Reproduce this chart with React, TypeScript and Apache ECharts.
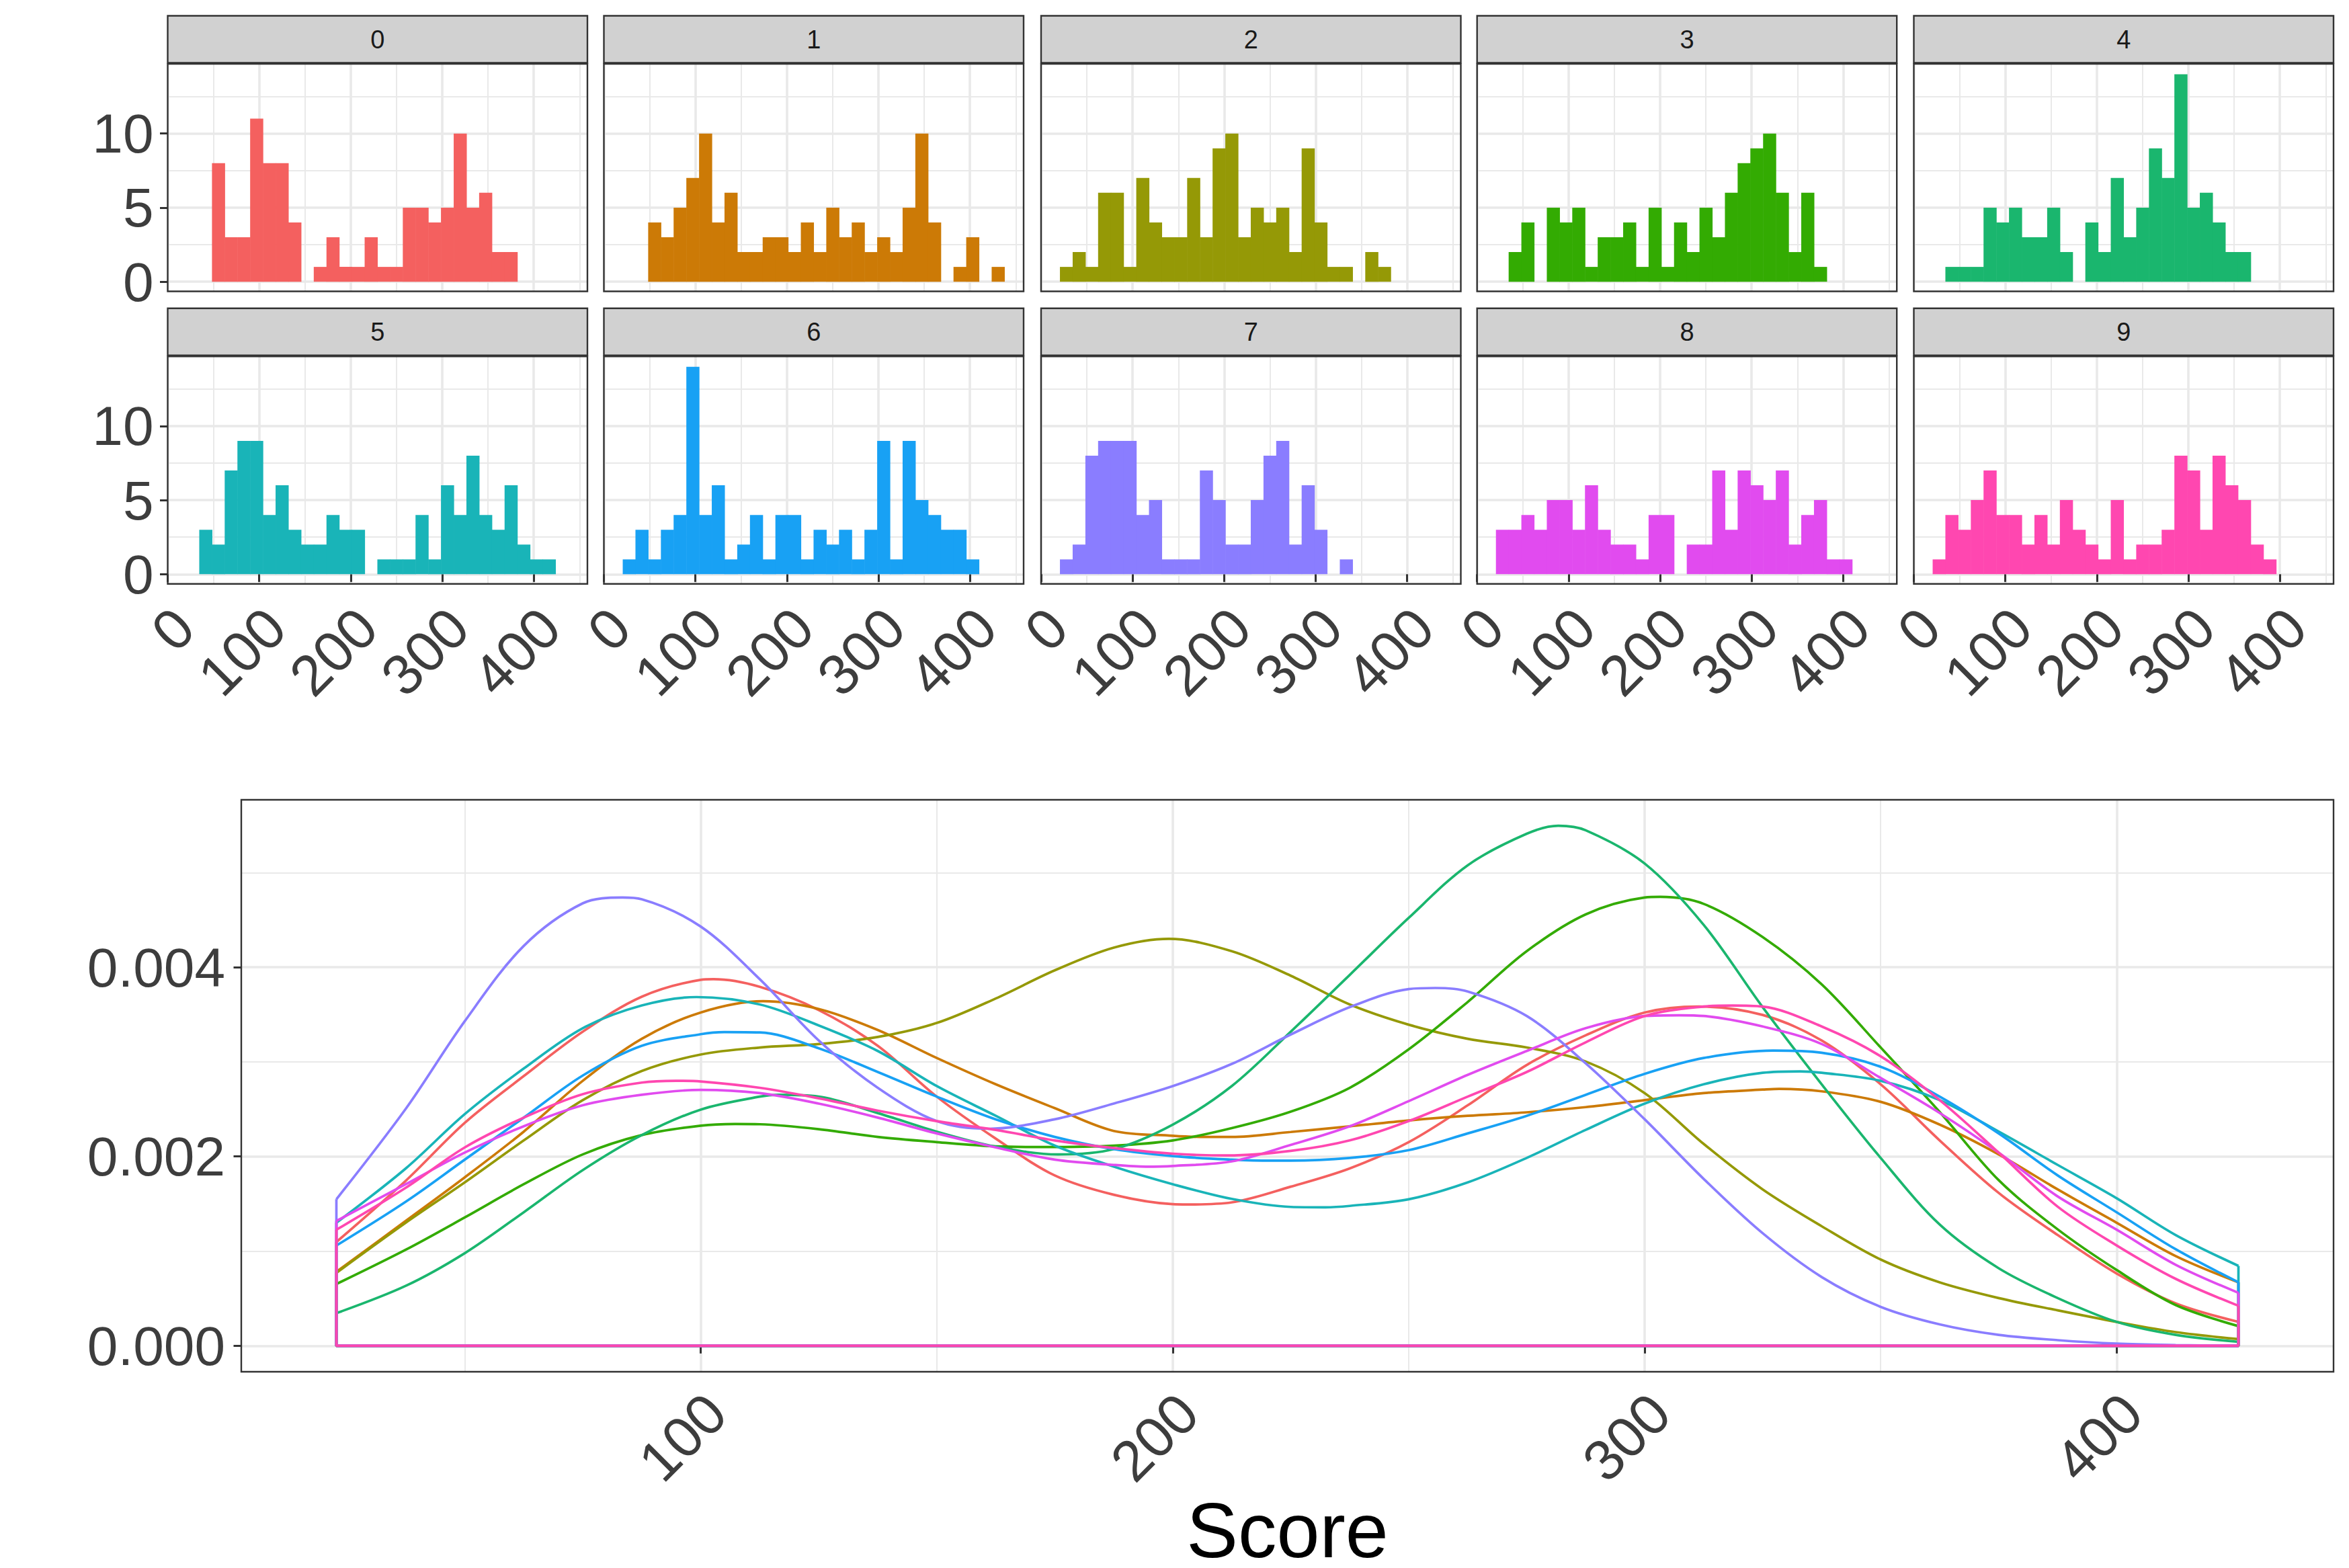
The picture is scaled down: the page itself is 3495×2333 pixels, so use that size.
import React, { useEffect, useRef } from "react";
import * as echarts from "echarts";

const FONT = "Liberation Sans";
const colors = ["#F4605F", "#CC7A06", "#959906", "#33AB02", "#1AB66E", "#19B4B8", "#18A1F4", "#8A7DFF", "#E14BEF", "#FF47B0"];
const facetNames = ["0", "1", "2", "3", "4", "5", "6", "7", "8", "9"];

const binFirstCentre = 27.75;
const binWidth = 13.9;

const counts0 = [0, 0, 8, 3, 3, 11, 8, 8, 4, 0, 1, 3, 1, 1, 3, 1, 1, 5, 5, 4, 5, 10, 5, 6, 2, 2];
const counts1 = [0, 0, 4, 3, 5, 7, 10, 4, 6, 2, 2, 3, 3, 2, 4, 2, 5, 3, 4, 2, 3, 2, 5, 10, 4, 0, 1, 3, 0, 1];
const counts2 = [1, 2, 1, 6, 6, 1, 7, 4, 3, 3, 7, 3, 9, 10, 3, 5, 4, 5, 2, 9, 4, 1, 1, 0, 2, 1];
const counts3 = [0, 2, 4, 0, 5, 4, 5, 1, 3, 3, 4, 1, 5, 1, 4, 2, 5, 3, 6, 8, 9, 10, 6, 2, 6, 1];
const counts4 = [0, 1, 1, 1, 5, 4, 5, 3, 3, 5, 2, 0, 4, 2, 7, 3, 5, 9, 7, 14, 5, 6, 4, 2, 2];
const counts5 = [0, 3, 2, 7, 9, 9, 4, 6, 3, 2, 2, 4, 3, 3, 0, 1, 1, 1, 4, 1, 6, 4, 8, 4, 3, 6, 2, 1, 1];
const counts6 = [1, 3, 1, 3, 4, 14, 4, 6, 1, 2, 4, 1, 4, 4, 1, 3, 2, 3, 1, 3, 9, 1, 9, 5, 4, 3, 3, 1];
const counts7 = [1, 2, 8, 9, 9, 9, 4, 5, 1, 1, 1, 7, 5, 2, 2, 5, 8, 9, 2, 6, 3, 0, 1];
const counts8 = [3, 3, 4, 3, 5, 5, 3, 6, 3, 2, 2, 1, 4, 4, 0, 2, 2, 7, 3, 7, 6, 5, 7, 2, 4, 5, 1, 1];
const counts9 = [1, 4, 3, 5, 7, 4, 4, 2, 4, 2, 5, 3, 2, 1, 5, 1, 2, 2, 3, 8, 7, 3, 8, 6, 5, 2, 1];
const allCounts = [counts0, counts1, counts2, counts3, counts4, counts5, counts6, counts7, counts8, counts9];

const densityX = [22.8, 37.5, 50, 62.5, 75, 87.5, 100, 112.5, 125, 137.5, 150, 162.5, 175, 187.5, 200, 212.5, 225, 237.5, 250, 262.5, 275, 287.5, 300, 312.5, 325, 337.5, 350, 362.5, 375, 387.5, 400, 412.5, 425.8];
const density0 = [0.001096, 0.001744, 0.002356, 0.00285, 0.003319, 0.003689, 0.003867, 0.003793, 0.003548, 0.00317, 0.002633, 0.002189, 0.0018, 0.001596, 0.001496, 0.001515, 0.001681, 0.001874, 0.002152, 0.002541, 0.002967, 0.003281, 0.003522, 0.003578, 0.003496, 0.003226, 0.002763, 0.00217, 0.001615, 0.00117, 0.000763, 0.000448, 0.000252];
const density1 = [0.000781, 0.001319, 0.00178, 0.002263, 0.0028, 0.003244, 0.003522, 0.003633, 0.003559, 0.003337, 0.003041, 0.002763, 0.002511, 0.00227, 0.002219, 0.002207, 0.002259, 0.002319, 0.002381, 0.00243, 0.002467, 0.002522, 0.002596, 0.00267, 0.002707, 0.002689, 0.002578, 0.002337, 0.002022, 0.001652, 0.0013, 0.000948, 0.00067];
const density2 = [0.00077, 0.0013, 0.001726, 0.00217, 0.002596, 0.002904, 0.003078, 0.003152, 0.003189, 0.003263, 0.003411, 0.00367, 0.003967, 0.004207, 0.004296, 0.00417, 0.003911, 0.003607, 0.003393, 0.003244, 0.003152, 0.003004, 0.00267, 0.002133, 0.001652, 0.001263, 0.000911, 0.00067, 0.000504, 0.000374, 0.000252, 0.000144, 0.00007];
const density3 = [0.000652, 0.001015, 0.001356, 0.001707, 0.002022, 0.002226, 0.002326, 0.002341, 0.002289, 0.002207, 0.002152, 0.002107, 0.002104, 0.002115, 0.00217, 0.0023, 0.002474, 0.002726, 0.003133, 0.003633, 0.00417, 0.004559, 0.004737, 0.00467, 0.004319, 0.003819, 0.003152, 0.00247, 0.00175, 0.00123, 0.0008, 0.00043, 0.000207];
const density4 = [0.000344, 0.000633, 0.000978, 0.001411, 0.001856, 0.002226, 0.002496, 0.002633, 0.002633, 0.002459, 0.002263, 0.002104, 0.002022, 0.002078, 0.002337, 0.002744, 0.003319, 0.003919, 0.004522, 0.005078, 0.005411, 0.005448, 0.005096, 0.004448, 0.003578, 0.002763, 0.001985, 0.001281, 0.000819, 0.000504, 0.000252, 0.000115, 0.000041];
const density5 = [0.0013, 0.001874, 0.002448, 0.00293, 0.003356, 0.003596, 0.003681, 0.003607, 0.003385, 0.003115, 0.002744, 0.00243, 0.002115, 0.001893, 0.001707, 0.001552, 0.001467, 0.001478, 0.001548, 0.001726, 0.001985, 0.002281, 0.002559, 0.002763, 0.002885, 0.002885, 0.0028, 0.002596, 0.002263, 0.001911, 0.001559, 0.00117, 0.000844];
const density6 = [0.001059, 0.001522, 0.001967, 0.002411, 0.002856, 0.00317, 0.003293, 0.003311, 0.003144, 0.002893, 0.002633, 0.002393, 0.002207, 0.002078, 0.002004, 0.001967, 0.001956, 0.001985, 0.002067, 0.002244, 0.00243, 0.002652, 0.002874, 0.003041, 0.003115, 0.003096, 0.002948, 0.002633, 0.002244, 0.0018, 0.00141, 0.00102, 0.00067];
const density7 = [0.001548, 0.002504, 0.00343, 0.004226, 0.004676, 0.004719, 0.00443, 0.003874, 0.003226, 0.002726, 0.002374, 0.002296, 0.002393, 0.002559, 0.002744, 0.002978, 0.003289, 0.003578, 0.00377, 0.003744, 0.003485, 0.002985, 0.002393, 0.001763, 0.001189, 0.000726, 0.000411, 0.000226, 0.000115, 0.000059, 0.000022, 0.000007, 0.0];
const density8 = [0.001319, 0.001707, 0.002041, 0.00232, 0.002541, 0.002652, 0.0027, 0.00267, 0.002559, 0.002411, 0.002244, 0.002096, 0.001967, 0.001911, 0.0019, 0.001948, 0.002122, 0.002319, 0.002585, 0.002863, 0.003115, 0.003356, 0.003485, 0.003485, 0.003374, 0.003189, 0.00283, 0.00246, 0.002041, 0.001578, 0.001226, 0.000856, 0.000559];
const density9 = [0.001226, 0.00167, 0.002096, 0.002411, 0.002659, 0.002781, 0.002793, 0.002726, 0.002615, 0.002485, 0.002374, 0.002281, 0.00217, 0.002089, 0.00203, 0.002011, 0.002059, 0.00217, 0.002374, 0.002633, 0.002893, 0.003207, 0.003485, 0.003585, 0.003585, 0.003374, 0.003059, 0.002596, 0.002041, 0.00147, 0.00106, 0.000707, 0.000422];
const allDensity = [density0, density1, density2, density3, density4, density5, density6, density7, density8, density9];

// Turning points of each curve as [score, density].
const turning0 = [[102.7, 0.003874], [203.1, 0.001493], [311.5, 0.003585]];
const turning1 = [[113.2, 0.003641], [205.8, 0.002207], [328.5, 0.002715]];
const turning2 = [[199.2, 0.0043]];
const turning3 = [[107.3, 0.002344], [173, 0.0021], [303.3, 0.004744]];
const turning4 = [[116.4, 0.002652], [175.7, 0.002022], [281.7, 0.005496]];
const turning5 = [[99.1, 0.003685], [232.3, 0.001463], [332.9, 0.0029]];
const turning6 = [[105, 0.003315], [220.8, 0.001956], [327.2, 0.003119]];
const turning7 = [[83.4, 0.004737], [161, 0.002293], [255.6, 0.003781]];
const turning8 = [[100, 0.002704], [194.3, 0.001893], [307.3, 0.003493]];
const turning9 = [[94.8, 0.0028], [211.6, 0.002011], [318.7, 0.003596]];
const allTurning = [turning0, turning1, turning2, turning3, turning4, turning5, turning6, turning7, turning8, turning9];

const facetXTicks = [0, 100, 200, 300, 400];
const facetXMinor = [50, 150, 250, 350, 450];
const facetYTicks = [0, 5, 10];
const facetYMinor = [2.5, 7.5, 12.5];
const denXTicks = [100, 200, 300, 400];
const denXMinor = [50, 150, 250, 350];
const denYTicks = [0, 0.002, 0.004];
const denYMinor = [0.001, 0.003, 0.005];

const panelLefts = [249.5, 898.5, 1549, 2197.7, 2847.5];
const panelW = 624.5;
const rowTops = [95, 530.2];
const panelH = 338.5;
const stripH = 71;

function curvePoints(vals: number[], turning: number[][]) {
  const grid = densityX
    .map((x, k) => [x, vals[k]])
    .filter((p) => !turning.some((t) => Math.abs(t[0] - p[0]) < 2.6));
  return [...grid, ...turning].sort((a, b) => a[0] - b[0]);
}

function buildOption() {
  const grid: any[] = [];
  const xAxis: any[] = [];
  const yAxis: any[] = [];
  const series: any[] = [];
  const graphic: any[] = [];
  const labelStyle = { fontFamily: FONT, fontSize: 82, color: "#3d3d3d" };
  const tickStyle = { lineStyle: { color: "#333333", width: 3 }, length: 11.5 };

  const addAxes = (g: number, cfg: any) => {
    const minorSplit = { show: true, lineStyle: { color: "#e9e9e9", width: 2 } };
    const majorSplit = { show: true, lineStyle: { color: "#e9e9e9", width: 3.6 } };
    xAxis.push({
      type: "value", gridIndex: g, min: cfg.xMin, max: cfg.xMax,
      axisLine: { show: false }, axisTick: { show: false, customValues: cfg.xMinor },
      axisLabel: { show: false, customValues: cfg.xMinor }, splitLine: minorSplit,
    });
    const xMajorIdx = xAxis.length;
    xAxis.push({
      type: "value", gridIndex: g, min: cfg.xMin, max: cfg.xMax, position: "bottom",
      axisLine: { show: false },
      axisTick: { show: cfg.showX, customValues: cfg.xTicks, ...tickStyle },
      axisLabel: {
        show: cfg.showX, customValues: cfg.xTicks, rotate: 45, verticalAlign: "top", margin: cfg.xMargin,
        padding: [0, cfg.xPadRight, 0, 0],
        showMinLabel: true, showMaxLabel: true, hideOverlap: false, ...labelStyle,
        fontSize: cfg.xFont,
      },
      splitLine: majorSplit,
      ...(cfg.xName ? {
        name: cfg.xName, nameLocation: "middle", nameGap: cfg.nameGap, nameMoveOverlap: false,
        nameTextStyle: { fontFamily: FONT, fontSize: 115, color: "#000000" },
      } : {}),
    });
    yAxis.push({
      type: "value", gridIndex: g, min: cfg.yMin, max: cfg.yMax, interval: cfg.yInterval,
      axisLine: { show: false }, axisTick: { show: false, customValues: cfg.yMinor },
      axisLabel: { show: false, customValues: cfg.yMinor }, splitLine: minorSplit,
    });
    const yMajorIdx = yAxis.length;
    yAxis.push({
      type: "value", gridIndex: g, min: cfg.yMin, max: cfg.yMax, interval: cfg.yInterval, position: "left",
      axisLine: { show: false },
      axisTick: { show: cfg.showY, customValues: cfg.yTicks, ...tickStyle },
      axisLabel: {
        show: cfg.showY, customValues: cfg.yTicks, margin: cfg.yMargin, formatter: cfg.yFormat,
        showMinLabel: true, showMaxLabel: true, hideOverlap: false, ...labelStyle,
      },
      splitLine: majorSplit,
    });
    return { xMajorIdx, yMajorIdx };
  };

  allCounts.forEach((counts, i) => {
    const col = i % 5;
    const row = Math.floor(i / 5);
    const left = panelLefts[col];
    const top = rowTops[row];
    grid.push({ left, top, width: panelW, height: panelH, show: false, outerBoundsMode: "none" });
    const { xMajorIdx, yMajorIdx } = addAxes(i, {
      xMin: 0, xMax: 458.6, yMin: -0.65, yMax: 14.7, yInterval: 0.05,
      xTicks: facetXTicks, xMinor: facetXMinor, yTicks: facetYTicks, yMinor: facetYMinor,
      showX: row === 1, showY: col === 0, xMargin: 15, xPadRight: 8, xFont: 85, yMargin: 21,
    });
    series.push({
      type: "bar", name: facetNames[i], xAxisIndex: xMajorIdx, yAxisIndex: yMajorIdx,
      barWidth: 19.5, itemStyle: { color: colors[i] }, silent: true, z: 3,
      data: counts.map((c, k) => [binFirstCentre + binWidth * k, c]).filter((d) => d[1] > 0),
    });
    graphic.push({
      type: "rect", z: 100, shape: { x: left, y: top - stripH - 0.5, width: panelW, height: stripH - 1 },
      style: { fill: "#D1D1D1", stroke: "#333333", lineWidth: 2.4 },
    });
    graphic.push({
      type: "text", z: 101, x: left + panelW / 2, y: top - stripH / 2 - 1,
      style: { text: facetNames[i], font: `38px "${FONT}"`, fill: "#1A1A1A", align: "center", verticalAlign: "middle" },
    });
    graphic.push({
      type: "rect", z: 100, shape: { x: left, y: top, width: panelW, height: panelH },
      style: { fill: "none", stroke: "#333333", lineWidth: 2.4 },
    });
  });

  const g = grid.length;
  const bL = 359, bT = 1190, bW = 3113, bH = 851;
  grid.push({ left: bL, top: bT, width: bW, height: bH, show: false, outerBoundsMode: "none" });
  const { xMajorIdx, yMajorIdx } = addAxes(g, {
    xMin: 2.65, xMax: 445.95, yMin: -0.000275, yMax: 0.00577, yInterval: 0.000275,
    xTicks: denXTicks, xMinor: denXMinor, yTicks: denYTicks, yMinor: denYMinor,
    showX: true, showY: true, xMargin: 10, xPadRight: 10, xFont: 85, xName: "Score", nameGap: 178, yMargin: 24,
    yFormat: (v: number) => v.toFixed(3),
  });
  allDensity.forEach((vals, i) => {
    const base = { type: "line", xAxisIndex: xMajorIdx, yAxisIndex: yMajorIdx, showSymbol: false, silent: true, z: 3 + i };
    const lineStyle = { color: colors[i], width: 3.7 };
    series.push({ ...base, name: `density ${facetNames[i]}`, smooth: 0.33, lineStyle, data: curvePoints(vals, allTurning[i]) });
    const n = densityX.length - 1;
    series.push({
      ...base, name: `outline ${facetNames[i]}`, lineStyle,
      data: [[densityX[0], vals[0]], [densityX[0], 0], [densityX[n], 0], [densityX[n], vals[n]]],
    });
  });
  graphic.push({
    type: "rect", z: 100, shape: { x: bL, y: bT, width: bW, height: bH },
    style: { fill: "none", stroke: "#333333", lineWidth: 2.4 },
  });

  return {
    animation: false,
    backgroundColor: "#ffffff",
    textStyle: { fontFamily: FONT },
    grid, xAxis, yAxis, series, graphic,
  };
}

export default function App() {
  const ref = useRef<HTMLDivElement>(null);
  useEffect(() => {
    document.body.style.margin = "0";
    const chart = echarts.init(ref.current!, undefined, { renderer: "svg" });
    chart.setOption(buildOption() as any);
    return () => chart.dispose();
  }, []);
  return <div ref={ref} style={{ position: "absolute", left: 0, top: 0, width: 3495, height: 2333 }} />;
}
